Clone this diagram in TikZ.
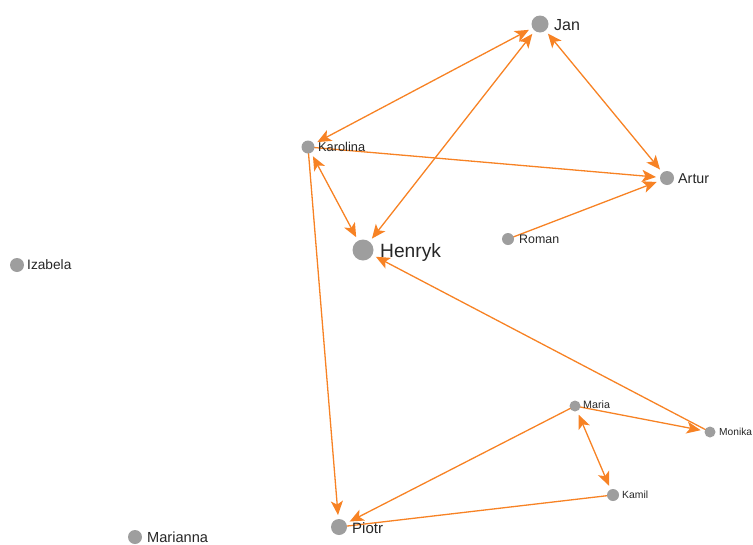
\documentclass[tikz,border=0pt]{standalone}
\usepackage{fontspec}
\setmainfont{Liberation Sans}
\usetikzlibrary{arrows.meta}
\definecolor{edgeorange}{RGB}{247,130,36}
\definecolor{nodegray}{RGB}{158,158,158}
\definecolor{labelgray}{RGB}{38,38,38}
\pgfdeclarelayer{links}
\pgfsetlayers{links,main}
\begin{document}
\begin{tikzpicture}[x=1pt,y=-1pt,
  person/.style={circle, fill=nodegray, inner sep=0pt, minimum size=#1, outer sep=4pt},
  personlabel/.style={anchor=base west, text=labelgray, inner sep=0pt,
               font=\fontsize{#1}{#1}\selectfont},
  link/.style={draw=edgeorange, line width=1.3pt,
               >={Stealth[length=14pt,width=12pt,inset=3.5pt]}}
]
\useasboundingbox (0,0) rectangle (753,544);

% people
\node[person=17pt] (jan)      at (540,24)  {};
\node[person=13pt] (karolina) at (308,147) {};
\node[person=14pt] (artur)    at (667,178) {};
\node[person=21pt] (henryk)   at (363,250) {};
\node[person=12pt] (roman)    at (508,239) {};
\node[person=14pt] (izabela)  at (17,265)  {};
\node[person=11pt] (maria)    at (575,406) {};
\node[person=11pt] (monika)   at (710,432) {};
\node[person=12pt] (kamil)    at (613,495) {};
\node[person=16pt] (piotr)    at (339,527) {};
\node[person=14pt] (marianna) at (135,537) {};

% names
\node[personlabel=16]   (janL)      at (554,30)  {Jan};
\node[personlabel=12.8] (karolinaL) at (318,151) {Karolina};
\node[personlabel=14.3] (arturL)    at (678,183) {Artur};
\node[personlabel=19.2] (henrykL)   at (380,257) {Henryk};
\node[personlabel=12.4] (romanL)    at (519,243) {Roman};
\node[personlabel=13.7] (izabelaL)  at (27,269)  {Izabela};
\node[personlabel=10.7] (mariaL)    at (583,408) {Maria};
\node[personlabel=10.2] (monikaL)   at (719,435) {Monika};
\node[personlabel=10.4] (kamilL)    at (622,498) {Kamil};
\node[personlabel=15]   (piotrL)    at (352,533) {Piotr};
\node[personlabel=14.6] (mariannaL) at (147,542) {Marianna};

% relations
\begin{pgfonlayer}{links}
  \draw[link, <->] (jan) -- (karolina);
  \draw[link, <->] (jan) -- (henryk);
  \draw[link, <->] (jan) -- (artur);
  \draw[link, <->] (karolina) -- (henryk);
  \draw[link, ->]  (karolina.center) -- (artur);
  \draw[link, ->]  (karolina.center) -- (piotr);
  \draw[link, ->]  (roman.center) -- (artur);
  \draw[link, ->]  (monika.center) -- (henryk);
  \draw[link, ->]  (maria.center) -- (monika);
  \draw[link, <->] (maria) -- (kamil);
  \draw[link, ->]  (maria.center) -- (piotr);
  \draw[link]      (kamil.center) -- (piotr.center);
\end{pgfonlayer}
\end{tikzpicture}
\end{document}
